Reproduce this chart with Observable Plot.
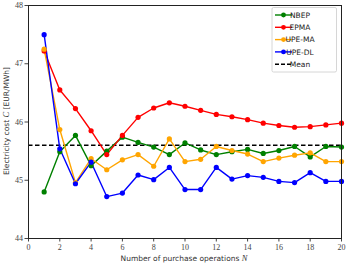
<!DOCTYPE html>
<html><head><meta charset="utf-8">
<script src="https://cdn.jsdelivr.net/npm/d3@7"></script>
<script src="https://cdn.jsdelivr.net/npm/@observablehq/plot@0.6"></script>
<style>body{margin:0;background:#fff}</style>
</head><body><div id="chart"></div>
<script>
const N = [1,2,3,4,5,6,7,8,9,10,11,12,13,14,15,16,17,18,19,20];
const nbep  = [44.80,45.49,45.77,45.25,45.50,45.74,45.65,45.57,45.44,45.64,45.52,45.44,45.49,45.53,45.46,45.51,45.58,45.40,45.58,45.57];
const epma  = [47.22,46.55,46.23,45.85,45.44,45.77,46.08,46.24,46.33,46.27,46.20,46.13,46.09,46.04,45.98,45.94,45.91,45.92,45.95,45.98];
const upeMa = [47.25,45.87,44.96,45.37,45.18,45.35,45.44,45.24,45.71,45.32,45.36,45.58,45.51,45.45,45.32,45.38,45.43,45.47,45.32,45.32];
const upeDl = [47.50,45.54,44.94,45.31,44.72,44.78,45.09,45.01,45.22,44.84,44.84,45.22,45.02,45.08,45.05,44.98,44.96,45.13,44.98,44.98];
const meanValue = 45.60;
const seriesNames = ["NBEP","EPMA","UPE-MA","UPE-DL"];
const seriesColors = ["green","red","orange","blue"];
const xTicks = [0,2,4,6,8,10,12,14,16,18,20];
const yTicks = [44,45,46,47,48];

const allSeries = [nbep, epma, upeMa, upeDl];
const rows = [];
allSeries.forEach((vals, s) => vals.forEach((v, i) => rows.push({series: seriesNames[s], n: N[i], v})));

const serif = "'Liberation Serif', 'DejaVu Serif', serif";
const sans = "'DejaVu Sans', sans-serif";

const plot = Plot.plot({
  width: 347, height: 264,
  marginLeft: 28, marginRight: 6, marginTop: 5, marginBottom: 26,
  style: {fontFamily: serif, fontSize: "8px", color: "#444", background: "#fff"},
  x: {domain: [0, 20], ticks: xTicks, tickFormat: "d", tickSize: 3.5, tickPadding: 2, label: null},
  y: {domain: [44, 48], ticks: yTicks, tickFormat: "d", tickSize: 3.5, tickPadding: 2, label: null},
  color: {domain: seriesNames, range: seriesColors},
  marks: [
    Plot.ruleY([meanValue], {stroke: "black", strokeWidth: 1.4, strokeDasharray: "4.5,2.5"}),
    Plot.line(rows, {x: "n", y: "v", z: "series", stroke: "series", strokeWidth: 1.4}),
    Plot.dot(rows, {x: "n", y: "v", fill: "series", r: 2.6}),
    Plot.frame({stroke: "#222", strokeWidth: 1})
  ]
});
document.getElementById("chart").appendChild(plot);

const svg = d3.select(plot);
const xl = svg.append("text").attr("x", 184).attr("y", 261).attr("text-anchor", "middle")
  .style("font-family", sans).style("font-size", "7.5px").attr("fill", "#333");
xl.append("tspan").text("Number of purchase operations ");
xl.append("tspan").text("N").style("font-family", serif).style("font-style", "italic").style("font-size", "8.5px");

const yl = svg.append("text").attr("transform", "translate(9,121) rotate(-90)").attr("text-anchor", "middle")
  .style("font-family", sans).style("font-size", "7.5px").attr("fill", "#333");
yl.append("tspan").text("Electricity cost ");
yl.append("tspan").text("C").style("font-family", serif).style("font-style", "italic").style("font-size", "8.5px");
yl.append("tspan").text(" [EUR/MWh]");

const lg = svg.append("g");
lg.append("rect").attr("x", 272).attr("y", 7.5).attr("width", 64.5).attr("height", 64.5).attr("rx", 1.5)
  .attr("fill", "white").attr("fill-opacity", 0.85).attr("stroke", "#ccc").attr("stroke-width", 0.8);
const entries = seriesNames.map((name, i) => ({name, color: seriesColors[i], dash: null, dot: true}));
entries.push({name: "Mean", color: "black", dash: "4,2", dot: false});
entries.forEach((e, i) => {
  const y = 15 + i * 12.3;
  lg.append("line").attr("x1", 275).attr("x2", 292).attr("y1", y).attr("y2", y)
    .attr("stroke", e.color).attr("stroke-width", 1.4).attr("stroke-dasharray", e.dash);
  if (e.dot) lg.append("circle").attr("cx", 283.5).attr("cy", y).attr("r", 2.4).attr("fill", e.color);
  lg.append("text").attr("x", 300).attr("y", y).attr("dy", "0.35em").text(e.name)
    .style("font-family", sans).style("font-size", "7.5px").attr("fill", "#222");
});
</script></body></html>
